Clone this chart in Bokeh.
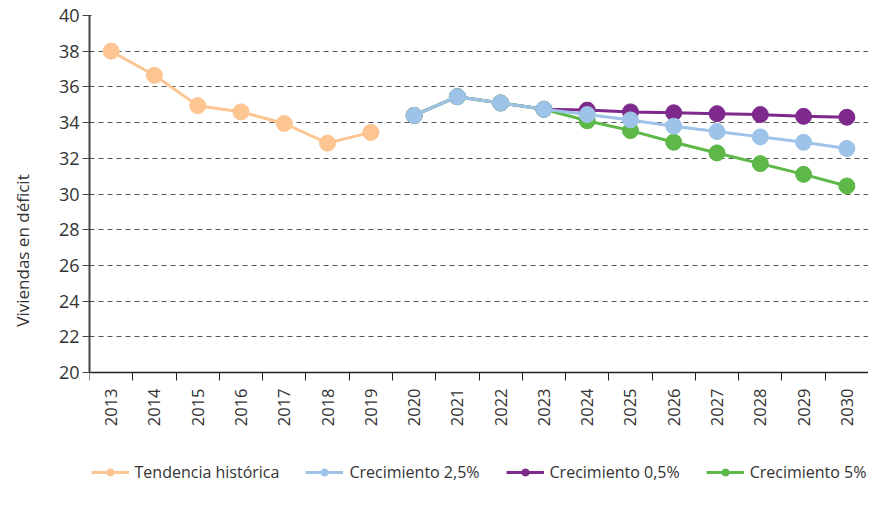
from bokeh.plotting import figure
from bokeh.models import Range1d, FixedTicker, Legend, LegendItem, ColumnDataSource
from bokeh.core.properties import value
from bokeh.embed import file_html
from bokeh.resources import INLINE
import math

# ---- data ----
hist_years = [2013, 2014, 2015, 2016, 2017, 2018, 2019]
hist_values = [38.0, 36.65, 34.95, 34.6, 33.95, 32.85, 33.45]

proj_years = [2020, 2021, 2022, 2023, 2024, 2025, 2026, 2027, 2028, 2029, 2030]
growth_2_5 = [34.4, 35.45, 35.1, 34.75, 34.45, 34.15, 33.8, 33.5, 33.2, 32.9, 32.55]
growth_0_5 = [34.4, 35.45, 35.1, 34.75, 34.7, 34.6, 34.55, 34.5, 34.45, 34.35, 34.3]
growth_5 = [34.4, 35.45, 35.1, 34.75, 34.1, 33.55, 32.9, 32.3, 31.7, 31.1, 30.45]

all_years = list(range(2013, 2031))
year_labels = [str(y) for y in all_years]
y_ticks = [20, 22, 24, 26, 28, 30, 32, 34, 36, 38, 40]

FONT = "Open Sans"
TXT = "#333333"

# geometry: the frame extends below the value axis to host the labels and legend
Y_MIN, Y_MAX = 20, 40
FRAME_H = 470
PLOT_H = 357
y_start = Y_MAX - (Y_MAX - Y_MIN) * FRAME_H / PLOT_H

p = figure(frame_width=779, frame_height=FRAME_H,
           output_backend="svg", toolbar_location=None,
           x_range=Range1d(all_years[0] - 0.5, all_years[-1] + 0.5),
           y_range=Range1d(y_start, Y_MAX),
           min_border_top=15, min_border_right=0, min_border_left=89, min_border_bottom=0)
p.outline_line_color = None
p.background_fill_color = "white"
p.border_fill_color = "white"

# x axis drawn at value 20
xa = p.xaxis[0]
xa.fixed_location = Y_MIN
xa.ticker = FixedTicker(ticks=all_years, minor_ticks=[y - 0.5 for y in all_years] + [all_years[-1] + 0.5])
xa.major_label_overrides = {y: "" for y in all_years}
xa.major_label_standoff = 0
xa.major_tick_out = 0
xa.major_tick_in = 0
xa.minor_tick_out = 8
xa.minor_tick_in = 0
xa.minor_tick_line_color = "#222222"
xa.axis_line_color = "#222222"
xa.axis_line_width = 1.5

# rotated year labels under the axis
lab_src = ColumnDataSource(dict(x=all_years, y=[Y_MIN] * len(all_years), t=year_labels))
p.text(x="x", y="y", text="t", source=lab_src, angle=math.pi / 2,
       text_align="right", text_baseline="middle", y_offset=16,
       text_font=value(FONT), text_font_size="16.5px", text_color=TXT)

# y axis
ya = p.yaxis[0]
ya.ticker = FixedTicker(ticks=y_ticks)
ya.bounds = (Y_MIN, Y_MAX)
ya.major_tick_out = 7
ya.major_tick_in = 2
ya.minor_tick_out = 0
ya.minor_tick_in = 0
ya.major_tick_line_color = "#444444"
ya.axis_line_color = "#444444"
ya.axis_line_width = 2
ya.major_label_standoff = 3
ya.major_label_text_font = FONT
ya.major_label_text_font_size = "18px"
ya.major_label_text_color = TXT
ya.axis_label = "Viviendas en déficit"
ya.axis_label_text_font = FONT
ya.axis_label_text_font_size = "17px"
ya.axis_label_text_font_style = "normal"
ya.axis_label_text_color = TXT
ya.axis_label_standoff = 22

p.xgrid.grid_line_color = None
p.ygrid.grid_line_color = "#555555"
p.ygrid.grid_line_dash = "5 4"
p.ygrid.grid_line_width = 1

C_HIST = "#FCC592"
C_25 = "#9DC3E8"
C_05 = "#7D2A8C"
C_5 = "#5DB847"

lh = p.line(hist_years, hist_values, line_color=C_HIST, line_width=3)
sh = p.scatter(hist_years, hist_values, size=16, fill_color=C_HIST, line_color=C_HIST)

l05 = p.line(proj_years, growth_0_5, line_color=C_05, line_width=3)
s05 = p.scatter(proj_years, growth_0_5, size=16, fill_color=C_05, line_color=C_05)

l5 = p.line(proj_years, growth_5, line_color=C_5, line_width=3)
s5 = p.scatter(proj_years, growth_5, size=16, fill_color=C_5, line_color=C_5)

l25 = p.line(proj_years, growth_2_5, line_color=C_25, line_width=3)
s25 = p.scatter(proj_years, growth_2_5, size=16, fill_color=C_25, line_color=C_25)

legend = Legend(items=[
    LegendItem(label="Tendencia histórica", renderers=[lh, sh]),
    LegendItem(label="Crecimiento 2,5%", renderers=[l25, s25]),
    LegendItem(label="Crecimiento 0,5%", renderers=[l05, s05]),
    LegendItem(label="Crecimiento 5%", renderers=[l5, s5]),
], orientation="horizontal", location="bottom_center")
legend.border_line_color = None
legend.background_fill_alpha = 0
legend.label_text_font = FONT
legend.label_text_font_size = "16px"
legend.label_text_color = TXT
legend.glyph_width = 38
legend.glyph_height = 18
legend.label_standoff = 6
legend.spacing = 26
legend.padding = 0
legend.margin = 2
p.add_layout(legend, "center")

open("out.html", "w").write(file_html(p, INLINE))
